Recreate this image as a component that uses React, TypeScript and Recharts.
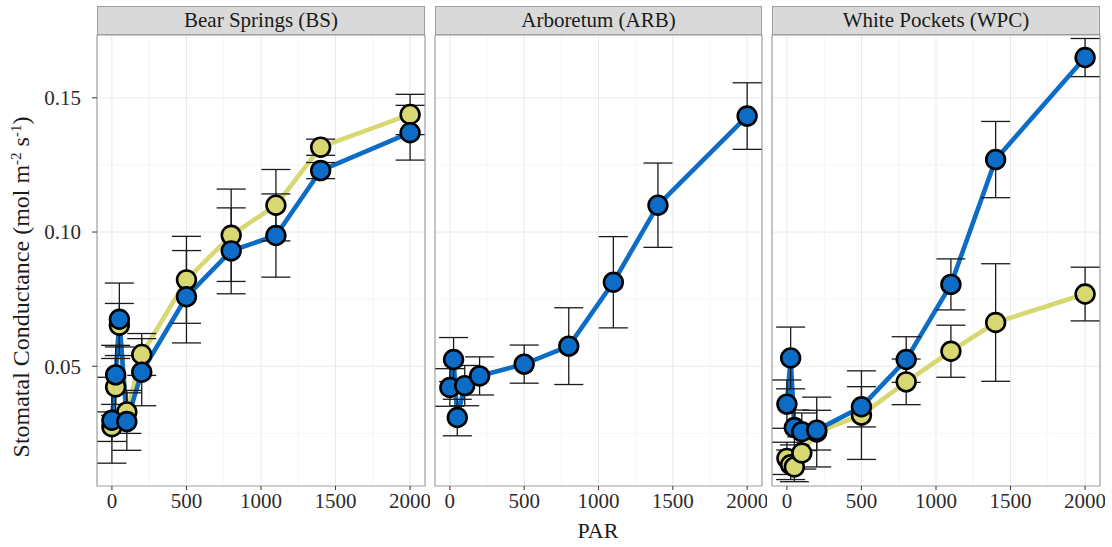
import React from 'react';
import {
  ComposedChart,
  Line,
  Scatter,
  XAxis,
  YAxis,
  CartesianGrid,
  ErrorBar,
  ReferenceArea,
} from 'recharts';

// light levels (PAR) shared by every site
const PAR = [0, 25, 50, 100, 200, 500, 800, 1100, 1400, 2000];

// Bear Springs
const BS_YELLOW = [0.0275, 0.0423, 0.0653, 0.033, 0.0544, 0.0822, 0.0988, 0.11, 0.1316, 0.1438];
const BS_YELLOW_SE = [0.0055, 0.0106, 0.0081, 0.008, 0.0078, 0.0162, 0.0172, 0.0133, 0.003, 0.0075];
const BS_BLUE = [0.0299, 0.0468, 0.0675, 0.0294, 0.0478, 0.0759, 0.093, 0.0987, 0.1229, 0.137];
const BS_BLUE_SE = [0.016, 0.011, 0.0135, 0.0107, 0.0125, 0.0172, 0.016, 0.0155, 0.003, 0.0102];

// Arboretum
const ARB_BLUE = [0.0421, 0.0525, 0.0309, 0.0428, 0.0464, 0.0508, 0.0575, 0.0813, 0.11, 0.1432];
const ARB_BLUE_SE = [0.007, 0.0082, 0.0068, 0.0075, 0.0071, 0.0071, 0.0143, 0.017, 0.0157, 0.0124];

// White Pockets
const WPC_YELLOW = [0.0157, 0.0133, 0.0125, 0.0177, 0.0255, 0.0318, 0.0442, 0.0556, 0.0663, 0.0769];
const WPC_YELLOW_SE = [0.006, 0.0055, 0.0055, 0.006, 0.013, 0.0165, 0.0085, 0.0097, 0.0219, 0.01];
const WPC_BLUE = [0.0359, 0.0531, 0.0272, 0.0256, 0.0262, 0.0349, 0.0525, 0.0805, 0.127, 0.165];
const WPC_BLUE_SE = [0.009, 0.0115, 0.0065, 0.007, 0.0074, 0.0075, 0.0085, 0.0095, 0.0142, 0.0071];

const X_TICKS = [0, 500, 1000, 1500, 2000];
const X_MINOR = [250, 750, 1250, 1750];
const Y_TICKS = [0.05, 0.1, 0.15];
const Y_MINOR = [0.025, 0.075, 0.125];
const X_DOMAIN: [number, number] = [-100, 2100];
const Y_DOMAIN: [number, number] = [0.0054, 0.1734];

const FONT = '"Liberation Serif", "DejaVu Serif", serif';
const BLUE = '#0c6cc6';
const YELLOW = '#d8d872';
const FRAME = '#9e9e9e';
const H = 547;
const TOP = 35;
const X_AXIS_H = 61;

const dot = (fill: string) => (props: any) => (
  <circle cx={props.cx} cy={props.cy} r={9.4} fill={fill} stroke="#000" strokeWidth={2.6} />
);
const noShape = () => <g />;

const panels = [
  { title: 'Bear Springs (BS)', left: 0, plotLeft: 97, plotRight: 425, showY: true, yellow: BS_YELLOW, yellowSe: BS_YELLOW_SE, blue: BS_BLUE, blueSe: BS_BLUE_SE },
  { title: 'Arboretum (ARB)', left: 430, plotLeft: 435, plotRight: 762, showY: false, yellow: null, yellowSe: null, blue: ARB_BLUE, blueSe: ARB_BLUE_SE },
  { title: 'White Pockets (WPC)', left: 767, plotLeft: 772, plotRight: 1100, showY: false, yellow: WPC_YELLOW, yellowSe: WPC_YELLOW_SE, blue: WPC_BLUE, blueSe: WPC_BLUE_SE },
];

function Facet({ p }: { p: (typeof panels)[number] }) {
  const rows = PAR.map((par, i) => ({
    par,
    yellow: p.yellow ? p.yellow[i] : undefined,
    yellowSe: p.yellowSe ? p.yellowSe[i] : undefined,
    blue: p.blue[i],
    blueSe: p.blueSe[i],
  }));
  const yw = p.showY ? p.plotLeft - p.left : 0;
  const marginLeft = p.showY ? 0 : p.plotLeft - p.left;
  const width = p.plotRight - p.left + 5;
  const tickStyle = { fill: '#2b2b2b', fontSize: 21, fontFamily: FONT };

  return (
    <div style={{ position: 'absolute', left: p.left, top: 0 }}>
      <ComposedChart width={width} height={H} data={rows} margin={{ top: TOP, right: 5, bottom: 0, left: marginLeft }}>
        <XAxis
          type="number"
          dataKey="par"
          domain={X_DOMAIN}
          allowDataOverflow
          ticks={X_TICKS}
          interval={0}
          height={X_AXIS_H}
          axisLine={false}
          tickLine={{ stroke: '#333' }}
          tickSize={4}
          tickMargin={3}
          tick={tickStyle}
        />
        <YAxis
          type="number"
          domain={Y_DOMAIN}
          allowDataOverflow
          ticks={Y_TICKS}
          interval={0}
          hide={!p.showY}
          width={yw}
          axisLine={false}
          tickLine={{ stroke: '#333' }}
          tickSize={5}
          tickMargin={11}
          tick={tickStyle}
          tickFormatter={(v: number) => v.toFixed(2)}
        />
        <CartesianGrid verticalValues={X_MINOR} horizontalValues={Y_MINOR} stroke="#f3f3f3" strokeWidth={0.8} />
        <CartesianGrid verticalValues={X_TICKS} horizontalValues={Y_TICKS} stroke="#e9e9e9" strokeWidth={1} />
        <ReferenceArea
          x1={X_DOMAIN[0]}
          x2={X_DOMAIN[1]}
          y1={Y_DOMAIN[0]}
          y2={Y_DOMAIN[1]}
          fill="#fff"
          fillOpacity={0}
          stroke={FRAME}
          strokeWidth={1.2}
          ifOverflow="visible"
        />
        {p.yellow && (
          <Line dataKey="yellow" stroke={YELLOW} strokeWidth={4.6} dot={false} activeDot={false} isAnimationActive={false} />
        )}
        <Line dataKey="blue" stroke={BLUE} strokeWidth={4.6} dot={false} activeDot={false} isAnimationActive={false} />
        {p.yellow && <Scatter dataKey="yellow" shape={dot(YELLOW)} isAnimationActive={false} />}
        <Scatter dataKey="blue" shape={dot(BLUE)} isAnimationActive={false} />
        {p.yellow && (
          <Scatter dataKey="yellow" shape={noShape} isAnimationActive={false}>
            <ErrorBar dataKey="yellowSe" direction="y" width={14.5} stroke="#1a1a1a" strokeWidth={1.3} isAnimationActive={false} />
          </Scatter>
        )}
        <Scatter dataKey="blue" shape={noShape} isAnimationActive={false}>
          <ErrorBar dataKey="blueSe" direction="y" width={14.5} stroke="#1a1a1a" strokeWidth={1.3} isAnimationActive={false} />
        </Scatter>
      </ComposedChart>
      <div
        style={{
          position: 'absolute',
          left: p.plotLeft - p.left,
          top: 6,
          width: p.plotRight - p.plotLeft,
          height: TOP - 6,
          boxSizing: 'border-box',
          border: `1px solid ${FRAME}`,
          background: '#d9d9d9',
          display: 'flex',
          alignItems: 'center',
          justifyContent: 'center',
          fontFamily: FONT,
          fontSize: 21,
          color: '#1a1a1a',
        }}
      >
        {p.title}
      </div>
    </div>
  );
}

export default function App() {
  return (
    <div style={{ position: 'absolute', left: 0, top: 0, width: 1112, height: H, background: '#fff', overflow: 'hidden' }}>
      {panels.map((p) => (
        <Facet key={p.title} p={p} />
      ))}
      <svg width={1112} height={H} style={{ position: 'absolute', left: 0, top: 0, pointerEvents: 'none' }}>
        <text x={598} y={538} textAnchor="middle" fontFamily={FONT} fontSize={22} fill="#1a1a1a">
          PAR
        </text>
        <text transform="translate(29, 287) rotate(-90)" textAnchor="middle" fontFamily={FONT} fontSize={24} fill="#1a1a1a">
          Stomatal Conductance (mol m
          <tspan dy={-8} fontSize={15}>-2</tspan>
          <tspan dy={8}> s</tspan>
          <tspan dy={-8} fontSize={15}>-1</tspan>
          <tspan dy={8}>)</tspan>
        </text>
      </svg>
    </div>
  );
}
